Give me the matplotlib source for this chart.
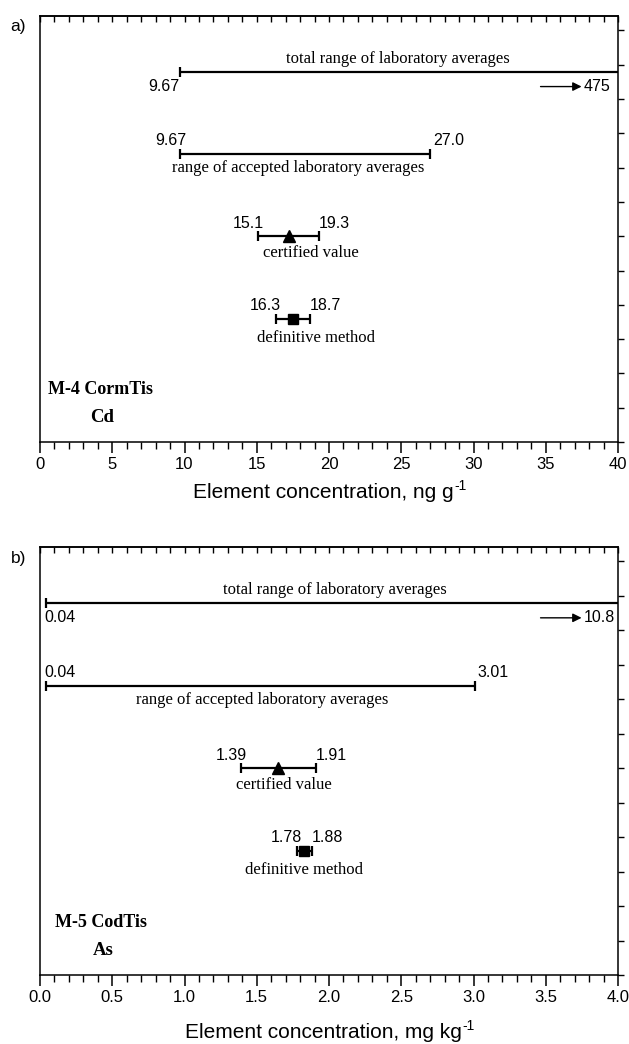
import matplotlib.pyplot as plt
from matplotlib.ticker import MultipleLocator, NullFormatter
import matplotlib.transforms as mtransforms

# ---- data: a) M-4 CormTis, Cd (ng g-1)
cd_total = [9.67, 475]
cd_accepted = [9.67, 27.0]
cd_certified = [15.1, 19.3]
cd_certified_mean = 17.2
cd_definitive = [16.3, 18.7]
cd_definitive_mean = 17.5

# ---- data: b) M-5 CodTis, As (mg kg-1)
as_total = [0.04, 10.8]
as_accepted = [0.04, 3.01]
as_certified = [1.39, 1.91]
as_certified_mean = 1.65
as_definitive = [1.78, 1.88]
as_definitive_mean = 1.83

SANS = 'Liberation Sans'
SERIF = 'Liberation Serif'
PX = 0.72  # points per pixel at dpi 100
rows_y = [10.8, 8.4, 6.0, 3.6]

fig = plt.figure(figsize=(6.29, 10.44), dpi=100)


def off(ax, dx_px=0, dy_px=0):
    return mtransforms.offset_copy(ax.transData, fig=fig, x=dx_px * PX, y=dy_px * PX, units='points')


def rng(ax, y, lo, hi, mean=None, marker=None, ms=8):
    mid = mean if mean is not None else (lo + hi) / 2
    ax.errorbar([mid], [y], xerr=[[mid - lo], [hi - mid]], fmt='none', ecolor='k',
                elinewidth=1.6, capsize=3.6, capthick=1.6, clip_on=True)
    if marker:
        ax.plot([mid], [y], marker=marker, color='k', ms=ms, ls='none')


def panel(rect, xmax, major, minor, fmt, letter, title1, title2, xlab,
          total, accepted, certified, cmean, definitive, dmean, text_x, left_low):
    ax = fig.add_axes(rect)
    ax.set_xlim(0, xmax)
    ax.set_ylim(0, 12.42)
    for s in ax.spines.values():
        s.set_linewidth(1.1)

    # total range (upper end off scale, shown with an arrow)
    rng(ax, rows_y[0], total[0], total[1])
    ax.text(text_x[0], rows_y[0], 'total range of laboratory averages', transform=off(ax, 0, 13),
            ha='center', va='center', family=SERIF, fontsize=12)
    if left_low:
        ax.text(total[0], rows_y[0], fmt(total[0]), transform=off(ax, -1, -15),
                ha='left', va='center', family=SANS, fontsize=11.5)
    else:
        ax.text(total[0], rows_y[0], fmt(total[0]), transform=off(ax, 0, -15),
                ha='right', va='center', family=SANS, fontsize=11.5)
    below = mtransforms.offset_copy(
        mtransforms.blended_transform_factory(ax.transAxes, ax.transData),
        fig=fig, y=-15 * PX, units='points')
    ax.annotate('', xy=(0.937, rows_y[0]), xytext=(0.866, rows_y[0]),
                xycoords=below, textcoords=below,
                arrowprops=dict(arrowstyle='-|>', color='k', lw=1.0, mutation_scale=13,
                                shrinkA=0, shrinkB=0))
    ax.text(0.94, rows_y[0], str(total[1]), transform=below,
            ha='left', va='center', family=SANS, fontsize=11.5)

    # accepted range
    rng(ax, rows_y[1], accepted[0], accepted[1])
    if left_low:
        ax.text(accepted[0], rows_y[1], fmt(accepted[0]), transform=off(ax, -1, 13),
                ha='left', va='center', family=SANS, fontsize=11.5)
    else:
        ax.text(accepted[0], rows_y[1], fmt(accepted[0]), transform=off(ax, 7, 13),
                ha='right', va='center', family=SANS, fontsize=11.5)
    ax.text(accepted[1], rows_y[1], '%.1f' % accepted[1] if accepted[1] > 10 else '%.2f' % accepted[1],
            transform=off(ax, 3, 13), ha='left', va='center', family=SANS, fontsize=11.5)
    ax.text(text_x[1], rows_y[1], 'range of accepted laboratory averages', transform=off(ax, 0, -14),
            ha='center', va='center', family=SERIF, fontsize=12)

    # certified value
    rng(ax, rows_y[2], certified[0], certified[1], cmean, '^', 9)
    ax.text(certified[0], rows_y[2], fmt(certified[0]), transform=off(ax, 6, 13),
            ha='right', va='center', family=SANS, fontsize=11.5)
    ax.text(certified[1], rows_y[2], fmt(certified[1]), transform=off(ax, 0, 13),
            ha='left', va='center', family=SANS, fontsize=11.5)
    ax.text(text_x[2], rows_y[2], 'certified value', transform=off(ax, 0, -17),
            ha='center', va='center', family=SERIF, fontsize=12)

    # definitive method
    rng(ax, rows_y[3], definitive[0], definitive[1], dmean, 's', 6.5)
    ax.text(definitive[0], rows_y[3], fmt(definitive[0]), transform=off(ax, 5, 13),
            ha='right', va='center', family=SANS, fontsize=11.5)
    ax.text(definitive[1], rows_y[3], fmt(definitive[1]), transform=off(ax, 0, 13),
            ha='left', va='center', family=SANS, fontsize=11.5)
    ax.text(text_x[3], rows_y[3], 'definitive method', transform=off(ax, 0, -19),
            ha='center', va='center', family=SERIF, fontsize=12)

    # sample labels
    lab_tr = mtransforms.blended_transform_factory(ax.transAxes, ax.transData)
    ax.text(title1[1], 1.52, title1[0], transform=lab_tr,
            ha='left', va='center', family=SERIF, fontsize=13, fontweight='bold')
    ax.text(title2[1], 0.72, title2[0], transform=lab_tr,
            ha='left', va='center', family=SERIF, fontsize=13.5, fontweight='bold')

    # axes styling
    ax.xaxis.set_major_locator(MultipleLocator(major))
    ax.xaxis.set_minor_locator(MultipleLocator(minor))
    ax.tick_params(axis='x', which='major', direction='out', length=8, width=1.1, pad=3,
                   labelsize=12)
    ax.tick_params(axis='x', which='minor', direction='out', length=5, width=1.0)
    for lab in ax.get_xticklabels():
        lab.set_family(SANS)
    if major == 5:
        ax.xaxis.set_major_formatter(lambda v, p: '%d' % v)
    else:
        ax.xaxis.set_major_formatter(lambda v, p: '%.1f' % v)
    ax.yaxis.set_major_locator(MultipleLocator(1))
    ax.tick_params(axis='y', which='both', left=False, right=True, labelleft=False,
                   direction='out', length=4, width=1.0)

    top = ax.secondary_xaxis('top')
    top.xaxis.set_major_locator(MultipleLocator(minor))
    top.xaxis.set_major_formatter(NullFormatter())
    top.tick_params(axis='x', direction='in', length=4, width=1.0)
    top.spines['top'].set_linewidth(1.1)

    b = ax.get_position()
    fig.text(0.029, b.y1 - 11 / 1044, letter, ha='center', va='center', family=SANS, fontsize=12.5)
    # x label with a small "-1" exponent drawn right after it
    t = fig.text(b.x0 + b.width / 2 - 6 / 629, b.y0 - xlab[1] / 1044, xlab[0], ha='center', va='center',
                 family=SANS, fontsize=15)
    ax.annotate('-1', xy=(1, 1), xycoords=t, xytext=(0.5, -1.5), textcoords='offset points',
                ha='left', va='center', family=SANS, fontsize=10)
    return ax


panel([40 / 629, 1 - 442 / 1044, 578 / 629, 426 / 1044], 40, 5, 1,
      lambda v: '%.1f' % v if v != 9.67 else '9.67', 'a)',
      ('M-4 CormTis', 8 / 578), ('Cd', 50 / 578),
      ('Element concentration, ng g', 51),
      cd_total, cd_accepted, cd_certified, cd_certified_mean,
      cd_definitive, cd_definitive_mean, [24.8, 17.85, 18.75, 19.1], False)

panel([40 / 629, 1 - 975 / 1044, 578 / 629, 428 / 1044], 4, 0.5, 0.1,
      lambda v: '%.2f' % v, 'b)',
      ('M-5 CodTis', 15 / 578), ('As', 53 / 578),
      ('Element concentration, mg kg', 58),
      as_total, as_accepted, as_certified, as_certified_mean,
      as_definitive, as_definitive_mean, [2.04, 1.54, 1.69, 1.83], True)

fig.savefig('out.png', dpi=100)
